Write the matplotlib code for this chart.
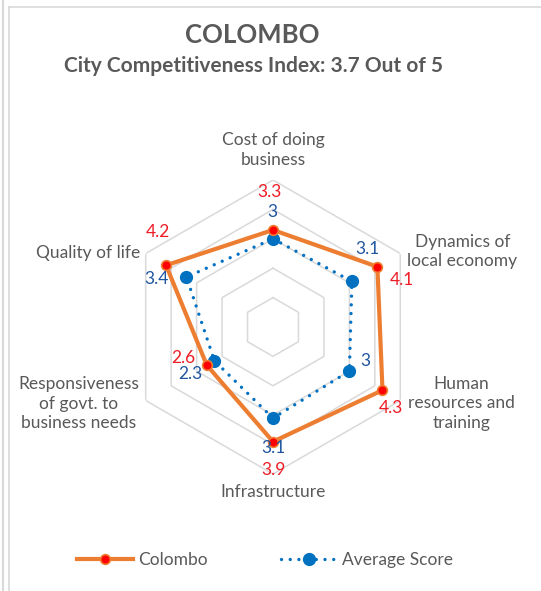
import numpy as np
import matplotlib
matplotlib.use('Agg')
import matplotlib.pyplot as plt
from matplotlib.lines import Line2D

plt.rcParams['font.family'] = ['Lato', 'DejaVu Sans']

# data
categories = ['Cost of doing\nbusiness', 'Dynamics of\nlocal economy', 'Human\nresources and\ntraining',
              'Infrastructure', 'Responsiveness\nof govt. to\nbusiness needs', 'Quality of life']
colombo = [3.3, 4.1, 4.3, 3.9, 2.6, 4.2]
average = [3, 3.1, 3, 3.1, 2.3, 3.4]
colombo_labels = ['3.3', '4.1', '4.3', '3.9', '2.6', '4.2']
average_labels = ['3', '3.1', '3', '3.1', '2.3', '3.4']
rings = [1, 2, 3, 4, 5]

# label offsets in pixels (layout only)
cat_off = [(0, 30), (62, 2), (61, -3), (0, -18), (-67, -3), (-58, 1)]
col_off = [(-4, 38), (25, -13), (8, -18), (0, -28), (-24, 7), (-8, 33)]
avg_off = [(-1, 27), (16, 32), (16, 10), (0, -30), (-24, -13), (-30, -2)]

orange = '#ED7D31'
red = '#FF0000'
blue = '#0070C0'
red_txt = '#EE1C25'
blue_txt = '#1F56A0'
grey_txt = '#595959'
grid_c = '#D9D9D9'

W, H = 541, 591
fig = plt.figure(figsize=(W / 100, H / 100), dpi=100)
fig.patch.set_facecolor('white')

# chart borders
fig.add_artist(Line2D([3 / W, 3 / W], [0, 1], color=grid_c, lw=1.5))
fig.add_artist(Line2D([9 / W, 9 / W], [0, 1 - 7 / H], color=grid_c, lw=1.2))
fig.add_artist(Line2D([9 / W, 1], [1 - 7 / H, 1 - 7 / H], color=grid_c, lw=1.2))

ax = fig.add_axes([126 / W, 117 / H, 294 / W, 294 / H], projection='polar')
ax.set_theta_offset(np.pi / 2)
ax.set_theta_direction(-1)
ax.set_ylim(0, 5)
ax.grid(False)
ax.set_xticks([])
ax.set_yticks([])
ax.spines['polar'].set_visible(False)
ax.patch.set_alpha(0)

n = len(categories)
theta = np.linspace(0, 2 * np.pi, n, endpoint=False)
theta_c = np.append(theta, theta[0])

for r in rings:
    ax.plot(theta_c, [r] * (n + 1), color=grid_c, lw=1.1, zorder=1)

avg_c = average + average[:1]
col_c = colombo + colombo[:1]
ax.plot(theta_c, avg_c, color=blue, lw=2.4, linestyle=(0, (0.01, 2.6)),
        dash_capstyle='round', zorder=3)
ax.plot(theta, average, 'o', color=blue, ms=8.5, zorder=4)
ax.plot(theta_c, col_c, color=orange, lw=3, solid_joinstyle='miter', zorder=5)
ax.plot(theta, colombo, 'o', color=red, mec=orange, mew=1.2, ms=7, zorder=6)

for i in range(n):
    ax.annotate(categories[i], (theta[i], 5), xytext=cat_off[i], textcoords='offset pixels',
                ha='center', va='center', fontsize=12.5, color=grey_txt, linespacing=1.3,
                annotation_clip=False)
    ax.annotate(colombo_labels[i], (theta[i], colombo[i]), xytext=col_off[i],
                textcoords='offset pixels', ha='center', va='center', fontsize=12.5,
                color=red_txt, annotation_clip=False, zorder=7)
    ax.annotate(average_labels[i], (theta[i], average[i]), xytext=avg_off[i],
                textcoords='offset pixels', ha='center', va='center', fontsize=12.5,
                color=blue_txt, annotation_clip=False, zorder=7)

fig.text(252 / W, 1 - 35 / H, 'COLOMBO', ha='center', va='center', fontsize=18.5,
         fontweight='bold', color=grey_txt)
fig.text(253 / W, 1 - 66 / H, 'City Competitiveness Index: 3.7 Out of 5', ha='center',
         va='center', fontsize=15, fontweight='bold', color=grey_txt)

h1 = Line2D([], [], color=orange, lw=3, marker='o', mfc=red, mec=orange, mew=1.2, ms=7)
h2 = Line2D([], [], color=blue, lw=2.4, linestyle=(0, (0.01, 2.6)), dash_capstyle='round',
            marker='o', ms=8.5)
fig.legend([h1, h2], ['Colombo', 'Average Score'], loc='center',
           bbox_to_anchor=(265 / W, 1 - 560 / H), ncol=2, frameon=False, fontsize=12.5,
           handlelength=3.2, columnspacing=4.2, handletextpad=0.3, labelcolor=grey_txt)

fig.savefig('out.png', dpi=100, facecolor=fig.get_facecolor())
